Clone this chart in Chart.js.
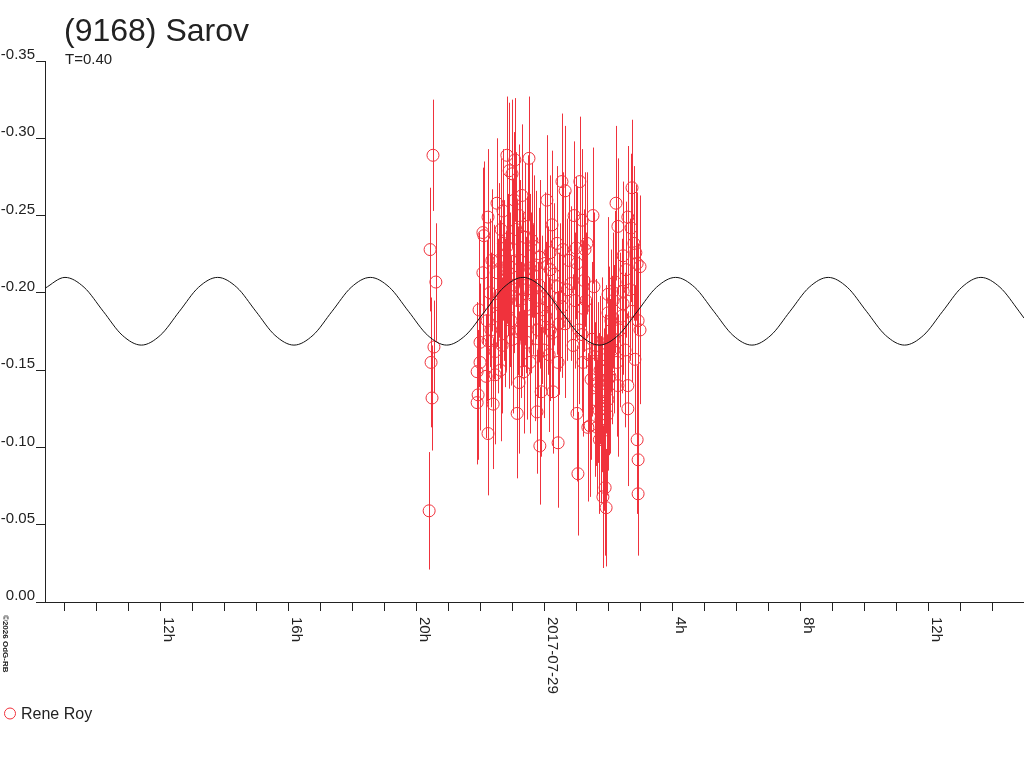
<!DOCTYPE html>
<html>
<head>
<meta charset="utf-8">
<title>(9168) Sarov</title>
<script src="https://cdn.jsdelivr.net/npm/chart.js@4.4.0/dist/chart.umd.min.js"></script>
<style>
  html, body { margin: 0; padding: 0; background: #fff; overflow: hidden; }
  canvas { display: block; }
</style>
</head>
<body>
<!-- 7px wider than the window: Chart.js keeps a point-radius margin on the right -->
<canvas id="lc" width="1031" height="768"></canvas>
<script>
// hours counted from 2017-07-28 00:00 UT
const xMin = 8.375;
const xMax = 38.97;
const yTicks = [-0.35, -0.30, -0.25, -0.20, -0.15, -0.10, -0.05, 0.00];
const dateLabels = { 12: '12h', 16: '16h', 20: '20h', 24: '2017-07-29', 28: '4h', 32: '8h', 36: '12h' };

// Rene Roy observations: time (h), magnitude, error
const obsTime = [
  20.38, 20.41, 20.44, 20.47, 20.50, 20.53, 20.59,
  21.88, 21.88, 21.91, 21.94, 21.97, 21.97, 22.06, 22.06, 22.09, 22.16,
  22.19, 22.22, 22.22, 22.22, 22.38, 22.41, 22.44, 22.44, 22.50, 22.50,
  22.56, 22.63, 22.66, 22.69, 22.72, 22.75, 22.78, 22.81, 22.81, 22.84,
  22.88, 22.91, 22.94, 22.97, 23.00, 23.03, 23.06, 23.09, 23.13, 23.16,
  23.19, 23.22, 23.25, 23.28, 23.31, 23.34, 23.38, 23.41, 23.44, 23.47,
  23.50, 23.53, 23.53, 23.53, 23.59, 23.63, 23.69, 23.72, 23.75, 23.78,
  23.84, 23.84, 23.84, 23.88, 23.91, 23.97, 24.00, 24.06, 24.09, 24.16,
  24.16, 24.16, 24.22, 24.22, 24.25, 24.28, 24.38, 24.38, 24.41, 24.41,
  24.47, 24.53, 24.53, 24.56, 24.63, 24.63, 24.69, 24.75, 24.81, 24.88,
  24.91, 24.94, 24.97, 25.00, 25.00, 25.03, 25.06, 25.09, 25.16, 25.16,
  25.19, 25.19, 25.22, 25.25, 25.28, 25.31, 25.34, 25.38, 25.41, 25.44,
  25.50, 25.53, 25.56, 25.59, 25.63, 25.66, 25.69, 25.72, 25.75, 25.78,
  25.81, 25.84, 25.88, 25.88, 25.91, 25.91, 25.94, 25.97, 25.97, 25.97,
  26.00, 26.03, 26.06, 26.09, 26.13, 26.19, 26.22, 26.25, 26.28, 26.28,
  26.34, 26.44, 26.44, 26.44, 26.50, 26.53, 26.59, 26.59, 26.59, 26.66,
  26.69, 26.72, 26.72, 26.78, 26.81, 26.84, 26.88, 26.88, 26.91, 26.91,
  26.91, 26.97, 26.97,
  22.28, 22.31, 22.34, 22.53, 22.59, 22.61, 22.70, 22.86, 22.99, 23.04,
  23.11, 23.14, 23.20, 23.27, 23.36, 23.43, 23.56, 23.66, 23.81, 24.03,
  24.13, 24.44, 25.47, 25.61, 25.70, 25.79, 25.86, 25.99, 26.16, 26.40
];
const obsMag = [
  -0.059, -0.228, -0.155, -0.132, -0.289, -0.165, -0.207,
  -0.129, -0.149, -0.134, -0.189, -0.155, -0.168, -0.213, -0.239, -0.237, -0.146,
  -0.182, -0.249, -0.169, -0.109, -0.128, -0.194, -0.147, -0.162, -0.213, -0.258,
  -0.221, -0.241, -0.166, -0.253, -0.208, -0.187, -0.195, -0.230, -0.289, -0.218,
  -0.279, -0.202, -0.182, -0.277, -0.228, -0.205, -0.286, -0.241, -0.122, -0.195,
  -0.142, -0.221, -0.176, -0.263, -0.202, -0.149, -0.236, -0.192, -0.212, -0.243,
  -0.287, -0.216, -0.182, -0.155, -0.234, -0.202, -0.163, -0.218, -0.123, -0.176,
  -0.101, -0.223, -0.197, -0.136, -0.189, -0.163, -0.219, -0.260, -0.195, -0.226,
  -0.215, -0.176, -0.244, -0.174, -0.136, -0.212, -0.232, -0.204, -0.155, -0.103,
  -0.197, -0.272, -0.191, -0.228, -0.266, -0.180, -0.202, -0.221, -0.206, -0.166,
  -0.250, -0.195, -0.229, -0.219, -0.122, -0.083, -0.176, -0.272, -0.247, -0.173,
  -0.190, -0.155, -0.208, -0.228, -0.195, -0.232, -0.113, -0.160, -0.114, -0.144,
  -0.250, -0.204, -0.131, -0.163, -0.113, -0.142, -0.124, -0.150, -0.118, -0.134,
  -0.068, -0.111, -0.074, -0.136, -0.061, -0.157, -0.121, -0.131, -0.199, -0.187,
  -0.169, -0.146, -0.182, -0.163, -0.195, -0.207, -0.258, -0.155, -0.243, -0.140,
  -0.176, -0.224, -0.201, -0.193, -0.163, -0.215, -0.249, -0.140, -0.125, -0.202,
  -0.242, -0.268, -0.188, -0.232, -0.157, -0.226, -0.219, -0.105, -0.182, -0.092,
  -0.070, -0.217, -0.176,
  -0.200, -0.176, -0.221, -0.185, -0.199, -0.150, -0.232, -0.190, -0.170, -0.260,
  -0.210, -0.175, -0.250, -0.196, -0.214, -0.168, -0.200, -0.230, -0.205, -0.185,
  -0.160, -0.180, -0.170, -0.140, -0.105, -0.160, -0.125, -0.145, -0.170, -0.185
];
const obsErr = [
  0.038, 0.040, 0.042, 0.034, 0.036, 0.030, 0.038,
  0.040, 0.045, 0.042, 0.050, 0.044, 0.038, 0.046, 0.042, 0.048, 0.040,
  0.052, 0.044, 0.046, 0.040, 0.042, 0.050, 0.045, 0.040, 0.048, 0.042,
  0.050, 0.046, 0.044, 0.040, 0.052, 0.048, 0.045, 0.050, 0.038, 0.046,
  0.044, 0.050, 0.042, 0.048, 0.046, 0.044, 0.040, 0.050, 0.042, 0.048,
  0.046, 0.052, 0.044, 0.046, 0.050, 0.040, 0.048, 0.044, 0.050, 0.046,
  0.040, 0.048, 0.044, 0.046, 0.050, 0.042, 0.046, 0.048, 0.040, 0.044,
  0.038, 0.050, 0.046, 0.042, 0.048, 0.044, 0.046, 0.042, 0.048, 0.050,
  0.044, 0.046, 0.048, 0.042, 0.040, 0.046, 0.050, 0.044, 0.046, 0.042,
  0.048, 0.044, 0.046, 0.050, 0.042, 0.048, 0.046, 0.044, 0.050, 0.046,
  0.048, 0.044, 0.046, 0.050, 0.044, 0.040, 0.048, 0.042, 0.046, 0.050,
  0.044, 0.048, 0.046, 0.050, 0.044, 0.046, 0.048, 0.050, 0.046, 0.052,
  0.044, 0.048, 0.050, 0.046, 0.044, 0.052, 0.050, 0.048, 0.054, 0.050,
  0.046, 0.052, 0.044, 0.050, 0.038, 0.048, 0.052, 0.046, 0.050, 0.044,
  0.048, 0.050, 0.046, 0.048, 0.044, 0.046, 0.050, 0.048, 0.044, 0.046,
  0.050, 0.048, 0.044, 0.046, 0.050, 0.044, 0.046, 0.048, 0.050, 0.046,
  0.048, 0.044, 0.046, 0.050, 0.048, 0.044, 0.046, 0.048, 0.050, 0.044,
  0.040, 0.046, 0.048,
  0.048, 0.050, 0.046, 0.050, 0.048, 0.046, 0.050, 0.052, 0.048, 0.044,
  0.050, 0.052, 0.046, 0.050, 0.048, 0.050, 0.052, 0.046, 0.050, 0.048,
  0.050, 0.046, 0.050, 0.052, 0.048, 0.050, 0.052, 0.050, 0.048, 0.050
];

// fitted lightcurve
const fitTime = [
  8.375, 9.000, 9.596, 10.193, 10.789, 11.385, 11.982, 12.578, 13.174,
  13.770, 14.367, 14.963, 15.559, 16.156, 16.752, 17.348, 17.945,
  18.541, 19.137, 19.733, 20.330, 20.926, 21.522, 22.119, 22.715,
  23.311, 23.908, 24.504, 25.100, 25.696, 26.293, 26.889, 27.485,
  28.082, 28.678, 29.274, 29.871, 30.467, 31.063, 31.659, 32.256,
  32.852, 33.448, 34.045, 34.641, 35.237, 35.834, 36.430, 37.026,
  37.622, 38.219, 38.815, 38.970
];
const fitMag = [
  -0.2030, -0.2100, -0.2036, -0.1881, -0.1726, -0.1662, -0.1726, -0.1881, -0.2036,
  -0.2100, -0.2036, -0.1881, -0.1726, -0.1662, -0.1726, -0.1881, -0.2036,
  -0.2100, -0.2036, -0.1881, -0.1726, -0.1662, -0.1726, -0.1881, -0.2036,
  -0.2100, -0.2036, -0.1881, -0.1726, -0.1662, -0.1726, -0.1881, -0.2036,
  -0.2100, -0.2036, -0.1881, -0.1726, -0.1662, -0.1726, -0.1881, -0.2036,
  -0.2100, -0.2036, -0.1881, -0.1726, -0.1662, -0.1726, -0.1881, -0.2036,
  -0.2100, -0.2036, -0.1881, -0.1837
];

const RED = 'rgb(240,50,60)';
const INK = '#222';
const FONT = '"Liberation Sans", Arial, sans-serif';

const errorBars = {
  id: 'errorBars',
  beforeDatasetsDraw(chart) {
    const { ctx, scales: { x, y } } = chart;
    ctx.save();
    ctx.strokeStyle = RED;
    ctx.lineWidth = 1;
    ctx.beginPath();
    for (let i = 0; i < obsTime.length; i++) {
      const px = Math.round(x.getPixelForValue(obsTime[i])) + 0.5;
      ctx.moveTo(px, y.getPixelForValue(obsMag[i] - obsErr[i]));
      ctx.lineTo(px, y.getPixelForValue(obsMag[i] + obsErr[i]));
    }
    ctx.stroke();
    ctx.restore();
  }
};

const decorations = {
  id: 'decorations',
  afterDraw(chart) {
    const { ctx, scales: { x } } = chart;
    ctx.save();
    ctx.fillStyle = INK;
    ctx.textAlign = 'left';
    ctx.textBaseline = 'alphabetic';

    ctx.font = '32px ' + FONT;
    ctx.fillText('(9168) Sarov', 64, 41);
    ctx.font = '15px ' + FONT;
    ctx.fillText('T=0.40', 65, 64);

    // rotated time labels under the x axis
    ctx.font = '15px ' + FONT;
    x.ticks.forEach(t => {
      const label = dateLabels[t.value];
      if (!label) return;
      const px = Math.round(x.getPixelForValue(t.value));
      ctx.save();
      ctx.translate(px, 617);
      ctx.rotate(Math.PI / 2);
      ctx.textBaseline = 'bottom';
      ctx.fillText(label, 0, 0);
      ctx.restore();
    });

    // small credit line
    ctx.save();
    ctx.font = 'bold 8px ' + FONT;
    ctx.translate(1, 615);
    ctx.rotate(Math.PI / 2);
    ctx.textBaseline = 'bottom';
    ctx.fillText('\u00a92026 OdG-RB', 0, 0);
    ctx.restore();

    // legend
    ctx.strokeStyle = RED;
    ctx.lineWidth = 1;
    ctx.beginPath();
    ctx.arc(10, 713.5, 5.5, 0, Math.PI * 2);
    ctx.stroke();
    ctx.font = '16px ' + FONT;
    ctx.fillText('Rene Roy', 21, 719);
    ctx.restore();
  }
};

new Chart(document.getElementById('lc'), {
  data: {
    datasets: [
      {
        type: 'line',
        label: 'fit',
        data: fitTime.map((t, i) => ({ x: t, y: fitMag[i] })),
        borderColor: '#111',
        borderWidth: 1,
        pointRadius: 0,
        cubicInterpolationMode: 'monotone',
        fill: false
      },
      {
        type: 'scatter',
        label: 'Rene Roy',
        data: obsTime.map((t, i) => ({ x: t, y: obsMag[i] })),
        pointStyle: 'circle',
        pointRadius: 6,
        pointBorderWidth: 1,
        pointBorderColor: RED,
        pointBackgroundColor: 'rgba(0,0,0,0)'
      }
    ]
  },
  options: {
    responsive: false,
    devicePixelRatio: 1,
    animation: false,
    layout: { padding: { top: 61, left: 0, right: 0, bottom: 0 } },
    plugins: {
      legend: { display: false },
      title: { display: false },
      tooltip: { enabled: false }
    },
    scales: {
      x: {
        type: 'linear',
        min: xMin,
        max: xMax,
        afterFit(scale) { scale.height = 166; },
        border: { display: true, color: INK, width: 1 },
        grid: { drawOnChartArea: false, drawTicks: true, tickLength: 9, color: INK },
        ticks: {
          stepSize: 1,
          autoSkip: false,
          includeBounds: false,
          maxRotation: 0,
          callback: () => ''
        }
      },
      y: {
        type: 'linear',
        reverse: true,
        min: yTicks[0],
        max: yTicks[yTicks.length - 1],
        afterFit(scale) { scale.width = 45; },
        afterBuildTicks(scale) { scale.ticks = yTicks.map(v => ({ value: v })); },
        border: { display: true, color: INK, width: 1 },
        grid: { drawOnChartArea: false, drawTicks: true, tickLength: 9, color: INK },
        ticks: {
          color: INK,
          font: { family: FONT, size: 15 },
          padding: 1,
          labelOffset: -6,
          callback: v => (Math.abs(v) < 1e-9 ? '0.00' : v.toFixed(2))
        }
      }
    }
  },
  plugins: [errorBars, decorations]
});
</script>
</body>
</html>
